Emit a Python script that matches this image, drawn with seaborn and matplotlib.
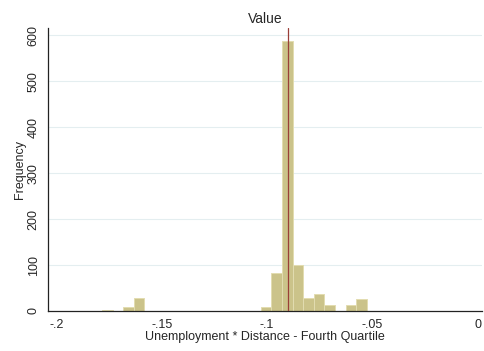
import numpy as np
import pandas as pd
import matplotlib
matplotlib.use("Agg")
import matplotlib.pyplot as plt
import seaborn as sns

# Histogram bins (Stata-style, 29 equal-width bins)
bin_start = -0.1784
bin_width = 0.00503
counts = [3, 0, 8, 29, 1, 0, 1, 0, 0, 0, 0, 1, 0, 0, 0,
          9, 83, 588, 101, 29, 36, 13, 0, 12, 27, 1, 0, 0, 1]
mean_value = -0.0902

x_ticks = [-0.2, -0.15, -0.1, -0.05, 0]
x_tick_labels = ["-.2", "-.15", "-.1", "-.05", "0"]
y_ticks = [0, 100, 200, 300, 400, 500, 600]

edges = bin_start + bin_width * np.arange(len(counts) + 1)
centers = (edges[:-1] + edges[1:]) / 2
df = pd.DataFrame({"value": centers, "freq": np.array(counts, dtype=float)})

sns.set_style("white")
plt.rcParams["font.family"] = ["Liberation Sans", "DejaVu Sans"]

fig = plt.figure(figsize=(4.84, 3.51), dpi=100)
ax = fig.add_axes([0.0992, 0.114, 0.897, 0.806])

for yt in y_ticks[1:]:
    ax.axhline(yt, color="#e4eef0", linewidth=0.8, zorder=0)

sns.histplot(data=df, x="value", weights="freq", bins=edges.tolist(), ax=ax,
             color="#cbc38a", edgecolor="#e2dcb0", linewidth=0.7,
             alpha=1.0)
ax.axvline(mean_value, color="#9a3f38", linewidth=0.9, zorder=3)

ax.set_xlim(-0.2041, 0.0022)
ax.set_ylim(0, 616)
ax.set_xticks(x_ticks)
ax.set_xticklabels(x_tick_labels)
ax.set_yticks(y_ticks)
ax.set_yticklabels([str(v) for v in y_ticks], rotation=90, va="center")

for side in ["top", "right"]:
    ax.spines[side].set_visible(False)
for side in ["left", "bottom"]:
    ax.spines[side].set_color("#222222")
    ax.spines[side].set_linewidth(0.9)

ax.tick_params(axis="both", direction="out", length=4, width=0.8,
               color="#555555", labelsize=9, pad=2)
ax.set_xlabel("Unemployment * Distance - Fourth Quartile", fontsize=9, labelpad=0)
ax.set_ylabel("Frequency", fontsize=9, labelpad=1)
ax.set_title("Value", fontsize=10, pad=4)

fig.savefig("out.png", dpi=100)
